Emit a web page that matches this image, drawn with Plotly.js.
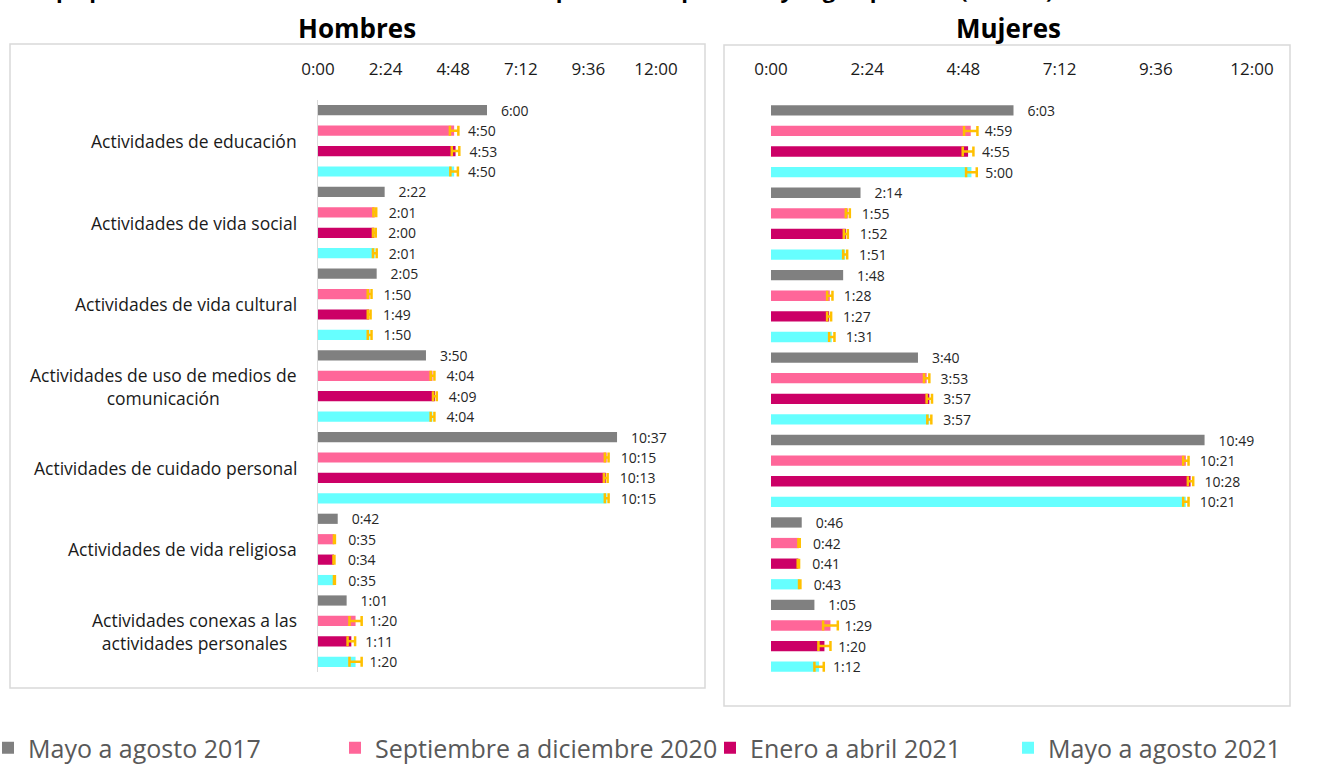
<!DOCTYPE html>
<html>
<head>
<meta charset="utf-8">
<script src="https://cdn.plot.ly/plotly-3.0.1.min.js"></script>
<style>html,body{margin:0;padding:0;background:#fff;}#chart{width:1321px;height:769px;}</style>
</head>
<body>
<div id="chart"></div>
<script>
// ---- data (minutes) ----
const categories = [
  'Actividades de educación',
  'Actividades de vida social',
  'Actividades de vida cultural',
  'Actividades de uso de medios de<br>comunicación',
  'Actividades de cuidado personal',
  'Actividades de vida religiosa',
  'Actividades conexas a las<br>actividades personales'
];
const seriesNames = ['Mayo a agosto 2017', 'Septiembre a diciembre 2020', 'Enero a abril 2021', 'Mayo a agosto 2021'];
const seriesColors = ['#808080', '#FF6699', '#CC0066', '#66FFFF'];

// Hombres
const hombres2017    = [360, 142, 125, 230, 637, 42, 61];
const hombresSepDic20 = [290, 121, 110, 244, 615, 35, 80];
const hombresEneAbr21 = [293, 120, 109, 249, 613, 34, 71];
const hombresMayAgo21 = [290, 121, 110, 244, 615, 35, 80];
const hombresErrSepDic20 = [9, 3, 4, 4, 4, 1, 13];
const hombresErrEneAbr21 = [8, 3, 3, 4, 4, 1, 8];
const hombresErrMayAgo21 = [8, 4, 4, 4, 4, 1, 13];

// Mujeres
const mujeres2017    = [363, 134, 108, 220, 649, 46, 65];
const mujeresSepDic20 = [299, 115, 88, 233, 621, 42, 89];
const mujeresEneAbr21 = [295, 112, 87, 237, 628, 41, 80];
const mujeresMayAgo21 = [300, 111, 91, 237, 621, 43, 72];
const mujeresErrSepDic20 = [10, 3, 4, 4, 4, 1, 11];
const mujeresErrEneAbr21 = [8, 3, 3, 4, 4, 1, 9];
const mujeresErrMayAgo21 = [8, 3, 4, 3, 4, 1, 7];

const tickVals = [0, 144, 288, 432, 576, 720];
const tickText = ['0:00', '2:24', '4:48', '7:12', '9:36', '12:00'];

// ---- helpers ----
const fmt = m => Math.floor(m / 60) + ':' + String(m % 60).padStart(2, '0');
const FONT = 'Open Sans, Noto Sans, sans-serif';
const W = 1321, H = 769;
const px = x => x / W;
const py = y => 1 - y / H;
const legendIds = ['legend', 'legend2', 'legend3', 'legend4'];
const legendX = [-12, 335, 710, 1008];

function makeTrace(i, vals, errs, xa, ya, showLegend) {
  const t = {
    type: 'bar', orientation: 'h',
    name: seriesNames[i],
    y: categories, x: vals,
    xaxis: xa, yaxis: ya,
    marker: {color: seriesColors[i]},
    text: vals.map(fmt),
    texttemplate: '\u00a0\u00a0\u00a0%{text}',
    textposition: 'outside',
    textangle: 0,
    constraintext: 'none',
    cliponaxis: false,
    textfont: {family: FONT, size: 14, color: '#262626'},
    showlegend: showLegend,
    legend: legendIds[i],
    hoverinfo: 'skip'
  };
  if (errs) {
    t.error_x = {type: 'data', array: errs, visible: true, color: '#FFC000', thickness: 2.5, width: 5};
  }
  return t;
}

const data = [
  makeTrace(0, hombres2017, null, 'x', 'y', true),
  makeTrace(1, hombresSepDic20, hombresErrSepDic20, 'x', 'y', true),
  makeTrace(2, hombresEneAbr21, hombresErrEneAbr21, 'x', 'y', true),
  makeTrace(3, hombresMayAgo21, hombresErrMayAgo21, 'x', 'y', true),
  makeTrace(0, mujeres2017, null, 'x2', 'y2', false),
  makeTrace(1, mujeresSepDic20, mujeresErrSepDic20, 'x2', 'y2', false),
  makeTrace(2, mujeresEneAbr21, mujeresErrEneAbr21, 'x2', 'y2', false),
  makeTrace(3, mujeresMayAgo21, mujeresErrMayAgo21, 'x2', 'y2', false)
];

const xCommon = {
  side: 'top', range: [0, 720], tickvals: tickVals, ticktext: tickText,
  showgrid: false, zeroline: false, showline: false,
  ticks: 'outside', ticklen: 17, tickcolor: 'rgba(0,0,0,0)',
  tickfont: {family: FONT, size: 17, color: '#1a1a1a'}, fixedrange: true
};

const annotations = categories.map(c => ({
  text: c, xref: 'paper', yref: 'y', x: px(299), y: c,
  xanchor: 'right', yanchor: 'middle', align: 'center', showarrow: false,
  font: {family: FONT, size: 17.5, color: '#1a1a1a'}
}));
annotations.push(
  {text: '<b>Hombres</b>', xref: 'paper', yref: 'paper', x: px(357), y: py(28), xanchor: 'center', yanchor: 'middle', showarrow: false, font: {family: FONT, size: 26, color: '#000'}},
  {text: '<b>Mujeres</b>', xref: 'paper', yref: 'paper', x: px(1008), y: py(28), xanchor: 'center', yanchor: 'middle', showarrow: false, font: {family: FONT, size: 26, color: '#000'}},
  {text: '<b>Tiempo promedio semanal dedicado a actividades personales por sexo y según periodo (hh:mm)</b>', xref: 'paper', yref: 'paper', x: 0, y: 1, xanchor: 'left', yanchor: 'bottom', yshift: -6, showarrow: false, font: {family: FONT, size: 22, color: '#000'}}
);

const layout = {
  width: W, height: H,
  margin: {l: 0, r: 0, t: 0, b: 0, autoexpand: false},
  paper_bgcolor: '#fff', plot_bgcolor: 'rgba(0,0,0,0)',
  barmode: 'group', bargap: 0, bargroupgap: 0.5,
  font: {family: FONT},
  xaxis: Object.assign({}, xCommon, {domain: [px(318), px(656)], anchor: 'y'}),
  xaxis2: Object.assign({}, xCommon, {domain: [px(771), px(1252)], anchor: 'y2'}),
  yaxis: {domain: [py(672), py(100)], anchor: 'x', type: 'category', autorange: 'reversed',
          showticklabels: false, showgrid: false, zeroline: false,
          showline: true, linecolor: '#d9d9d9', linewidth: 1.5, fixedrange: true},
  yaxis2: {domain: [py(677), py(100)], anchor: 'x2', type: 'category', autorange: 'reversed',
           showticklabels: false, showgrid: false, zeroline: false, showline: false, fixedrange: true},
  shapes: [
    {type: 'rect', xref: 'paper', yref: 'paper', x0: px(10), x1: px(705), y0: py(688), y1: py(44), line: {color: '#d9d9d9', width: 1.5}},
    {type: 'rect', xref: 'paper', yref: 'paper', x0: px(724), x1: px(1290), y0: py(706), y1: py(45), line: {color: '#d9d9d9', width: 1.5}}
  ],
  annotations: annotations
};
legendIds.forEach((id, i) => {
  layout[id] = {orientation: 'h', x: px(legendX[i]), y: py(748), xanchor: 'left', yanchor: 'middle',
                font: {family: FONT, size: 25, color: '#595959'}, itemwidth: 30,
                bgcolor: 'rgba(0,0,0,0)'};
});

Plotly.newPlot('chart', data, layout, {displayModeBar: false, staticPlot: true});
</script>
</body>
</html>
